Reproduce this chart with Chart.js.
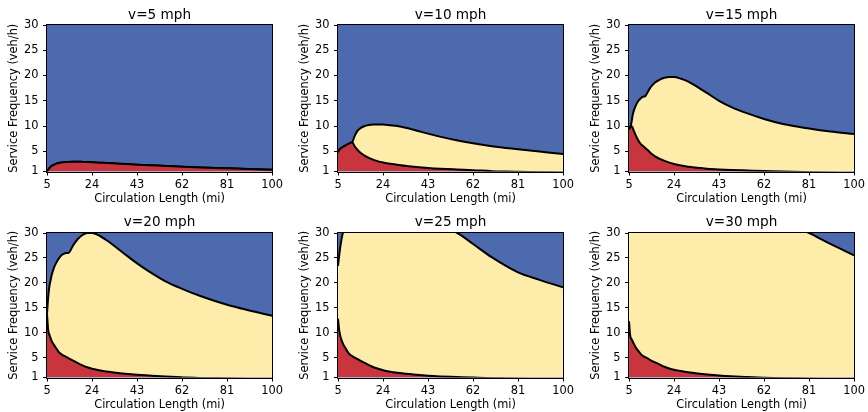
<!DOCTYPE html>
<html>
<head>
<meta charset="utf-8">
<script src="https://cdn.jsdelivr.net/npm/chart.js@4.4.0/dist/chart.umd.min.js"></script>
<style>
  body { margin: 0; background: #fff; }
  #wrap { position: relative; width: 868px; height: 412px; overflow: hidden; }
  #wrap canvas { position: absolute; }
</style>
</head>
<body>
<div id="wrap">
  <canvas id="c5" width="286" height="206" style="left:0px;top:0px"></canvas>
  <canvas id="c10" width="286" height="206" style="left:291px;top:0px"></canvas>
  <canvas id="c15" width="286" height="206" style="left:582px;top:0px"></canvas>
  <canvas id="c20" width="286" height="206" style="left:0px;top:206px"></canvas>
  <canvas id="c25" width="286" height="206" style="left:291px;top:206px"></canvas>
  <canvas id="c30" width="286" height="206" style="left:582px;top:206px"></canvas>
</div>
<script>
// circulation length grid (mi)
const xs = [5, 5.5, 6, 6.5, 7, 8, 9, 10, 11, 12, 13, 14, 16, 18, 20, 22, 24, 27, 30, 34, 38, 43, 48, 55, 62, 70, 81, 90, 100]

const xTicks = [5, 24, 43, 62, 81, 100]
const yTicks = [1, 5, 10, 15, 20, 25, 30]

const speeds = [5, 10, 15, 20, 25, 30]

// boundary red / yellow (veh/h)
const lower5  = [1.0, 1.35, 1.65, 1.9, 2.1, 2.35, 2.55, 2.68, 2.77, 2.83, 2.87, 2.9, 2.92, 2.92, 2.9, 2.87, 2.83, 2.75, 2.68, 2.58, 2.48, 2.35, 2.24, 2.1, 1.95, 1.8, 1.62, 1.48, 1.33]
const lower10 = [4.8, 5.2, 5.5, 5.7, 5.85, 6.1, 6.35, 6.6, 6.8, 6.0, 5.4, 4.9, 4.2, 3.7, 3.3, 3.0, 2.8, 2.55, 2.35, 2.1, 1.9, 1.7, 1.55, 1.4, 1.27, 1.06, 0.95, 0.85, 0.75]
const lower15 = [9.3, 9.7, 10.0, 9.7, 9.1, 8.0, 7.1, 6.4, 6.0, 5.6, 5.2, 4.7, 4.0, 3.5, 3.1, 2.75, 2.5, 2.2, 1.95, 1.75, 1.55, 1.4, 1.3, 1.2, 1.1, 0.98, 0.85, 0.75, 0.65]
const lower20 = [13.8, 10.5, 9.6, 8.9, 8.3, 7.5, 6.8, 6.1, 5.7, 5.4, 5.15, 4.9, 4.4, 3.9, 3.45, 3.05, 2.75, 2.45, 2.2, 1.95, 1.75, 1.55, 1.4, 1.2, 1.03, 0.9, 0.8, 0.7, 0.6]
const lower25 = [12.8, 10.5, 9.3, 8.5, 7.9, 7.0, 6.2, 5.6, 5.3, 5.0, 4.75, 4.5, 4.0, 3.5, 3.05, 2.75, 2.45, 2.15, 1.95, 1.75, 1.55, 1.35, 1.22, 1.1, 0.98, 0.85, 0.75, 0.65, 0.55]
const lower30 = [12.3, 9.4, 8.8, 8.3, 7.8, 6.9, 6.3, 5.7, 5.3, 5.05, 4.8, 4.5, 4.05, 3.6, 3.15, 2.8, 2.55, 2.3, 2.05, 1.8, 1.6, 1.4, 1.25, 1.1, 0.97, 0.85, 0.75, 0.65, 0.55]

// boundary yellow / blue (veh/h)
const upper5  = lower5
const upper10 = [4.8, 5.2, 5.5, 5.7, 5.85, 6.1, 6.35, 6.6, 6.8, 8.0, 8.9, 9.4, 9.95, 10.2, 10.3, 10.3, 10.3, 10.15, 10.0, 9.6, 9.1, 8.5, 7.9, 7.2, 6.6, 6.0, 5.4, 4.95, 4.45]
const upper15 = [9.3, 9.7, 10.6, 12.0, 13.0, 14.2, 15.0, 15.5, 15.8, 16.0, 16.8, 17.6, 18.6, 19.2, 19.55, 19.7, 19.7, 19.35, 18.8, 17.7, 16.5, 15.0, 13.8, 12.5, 11.4, 10.4, 9.5, 8.9, 8.4]
const upper20 = [13.8, 17.1, 19.3, 20.5, 21.6, 23.1, 24.1, 24.9, 25.5, 25.8, 26.0, 26.0, 27.5, 28.8, 29.6, 30.0, 30.0, 29.5, 28.6, 27.2, 25.7, 23.9, 22.3, 20.3, 18.8, 17.3, 15.6, 14.5, 13.4]
const upper25 = [23.4, 25.5, 27.3, 28.8, 29.9, 31.5, 32.5, 33.0, 33.5, 34.0, 34.5, 35.0, 35.5, 36.0, 36.0, 36.0, 36.0, 35.5, 35.0, 34.0, 33.2, 32.2, 31.2, 30.1, 27.8, 25.1, 22.1, 20.6, 19.1]
const upper30 = [31.5, 33.0, 34.0, 35.0, 36.0, 37.0, 38.0, 39.0, 39.5, 40.0, 40.5, 41.0, 41.5, 42.0, 42.0, 42.0, 42.0, 41.5, 41.0, 40.0, 39.0, 37.8, 36.5, 35.0, 33.5, 32.0, 30.0, 27.8, 25.5]

const lowers = [lower5, lower10, lower15, lower20, lower25, lower30]
const uppers = [upper5, upper10, upper15, upper20, upper25, upper30]

const RED = '#c8353e'
const YELLOW = '#feecab'
const BLUE = '#4e6aaf'
const FS = 11.4

Chart.defaults.font.family = 'DejaVu Sans'
Chart.defaults.color = '#000'

// blue background + black frame around the plot area
const frame = {
  id: 'frame',
  beforeDraw(chart) {
    const {ctx, chartArea: a} = chart
    ctx.save()
    ctx.fillStyle = BLUE
    ctx.fillRect(a.left, a.top, a.width, a.height)
    ctx.restore()
  },
  afterDatasetsDraw(chart) {
    const {ctx, chartArea: a} = chart
    ctx.save()
    ctx.strokeStyle = '#000'
    ctx.lineWidth = 1
    ctx.strokeRect(Math.round(a.left) - 0.5, Math.round(a.top) - 0.5, Math.round(a.width) + 1, Math.round(a.height) + 1)
    ctx.restore()
  }
}

function points(ys) {
  return xs.map((x, i) => ({x: x, y: ys[i]}))
}

function boundary(ys, color) {
  return {
    data: points(ys),
    fill: 'start',
    backgroundColor: color,
    borderColor: '#000',
    borderWidth: 2,
    pointRadius: 0,
    cubicInterpolationMode: 'monotone',
    clip: 0
  }
}

speeds.forEach((v, i) => {
  const row = i < 3 ? 0 : 1
  new Chart(document.getElementById('c' + v), {
    type: 'line',
    data: {
      datasets: [
        boundary(lowers[i], RED),
        boundary(uppers[i], YELLOW)
      ]
    },
    options: {
      responsive: false,
      animation: false,
      layout: { padding: { left: 0, right: 12, top: 0, bottom: 0 } },
      plugins: {
        legend: { display: false },
        tooltip: { enabled: false }
      },
      scales: {
        // top axis only carries the panel title, centred over the plot
        top: {
          type: 'linear',
          position: 'top',
          min: 5,
          max: 100,
          afterFit: s => { s.height = row === 0 ? 25 : 27 },
          border: { display: false },
          grid: { display: false },
          ticks: { display: false },
          title: {
            display: true,
            text: 'v=' + v + ' mph',
            font: { size: 13.6 },
            color: '#000',
            padding: { top: row === 0 ? 7 : 8, bottom: 0 }
          }
        },
        x: {
          type: 'linear',
          min: 5,
          max: 100,
          afterBuildTicks: s => { s.ticks = xTicks.map(t => ({value: t})) },
          afterFit: s => { s.height = 34.5 },
          border: { display: false },
          grid: { drawOnChartArea: false, tickLength: 4, color: '#000' },
          ticks: { autoSkip: false, maxRotation: 0, padding: 3, font: { size: FS }, color: '#000' },
          title: { display: true, text: 'Circulation Length (mi)', font: { size: FS }, color: '#000', padding: { top: 0, bottom: 0 } }
        },
        y: {
          type: 'linear',
          min: 1,
          max: 30,
          afterBuildTicks: s => { s.ticks = yTicks.map(t => ({value: t})) },
          afterFit: s => { s.width = 47 },
          border: { display: false },
          grid: { drawOnChartArea: false, tickLength: 4, color: '#000' },
          ticks: { padding: 4.5, font: { size: FS }, color: '#000' },
          title: { display: true, text: 'Service Frequency (veh/h)', font: { size: FS }, color: '#000', padding: { top: 7.5, bottom: 0 } }
        }
      }
    },
    plugins: [frame]
  })
})
</script>
</body>
</html>
